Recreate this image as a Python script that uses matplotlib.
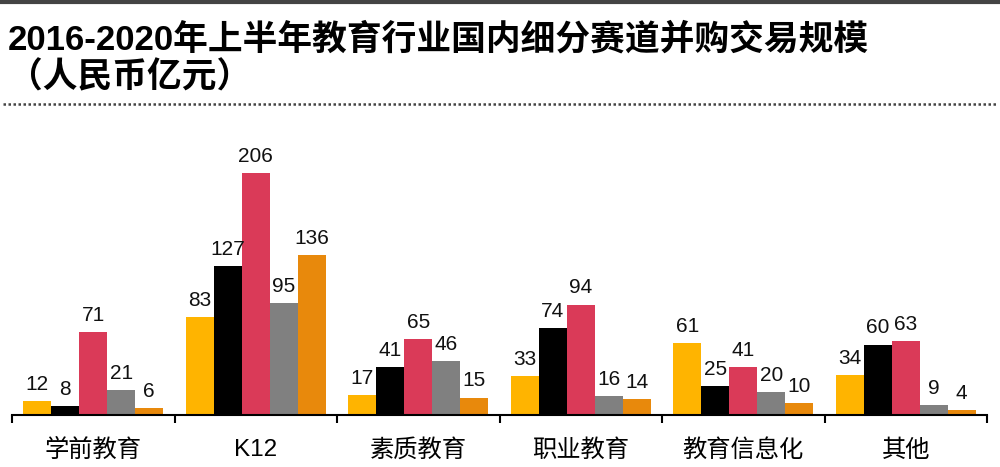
import numpy as np
import matplotlib.pyplot as plt
from matplotlib.lines import Line2D

plt.rcParams['font.family'] = ['Liberation Sans', 'Noto Sans CJK SC', 'DejaVu Sans']

categories = ['学前教育', 'K12', '素质教育', '职业教育', '教育信息化', '其他']
years = ['2016', '2017', '2018', '2019', '2020H1']
values = [
    [12, 83, 17, 33, 61, 34],
    [8, 127, 41, 74, 25, 60],
    [71, 206, 65, 94, 41, 63],
    [21, 95, 46, 16, 20, 9],
    [6, 136, 15, 14, 10, 4],
]
colors = ['#FFB400', '#000000', '#DA3A58', '#808080', '#E8890C']

fig = plt.figure(figsize=(10, 4.67), dpi=100)
ax = fig.add_axes([0.012, 0.111, 0.975, 0.63])

x = np.arange(len(categories))
w = 0.172
for i, (yr, vals) in enumerate(zip(years, values)):
    pos = x + (i - 2) * w
    ax.bar(pos, vals, w, color=colors[i], label=yr)
    for p, v in zip(pos, vals):
        ax.text(p, v + 6, str(v), ha='center', va='bottom', fontsize=15, color='#111111')

ax.set_xlim(-0.5, len(categories) - 0.5)
ax.set_ylim(0, 250)
ax.set_yticks([])
for s in ['top', 'right', 'left']:
    ax.spines[s].set_visible(False)
ax.spines['bottom'].set_linewidth(1.5)
ax.set_xticks(np.arange(-0.5, len(categories)))
ax.set_xticklabels([])
ax.tick_params(axis='x', direction='out', length=6, width=1.5)
for xi, c in zip(x, categories):
    ax.text(xi, -0.12, c, transform=ax.get_xaxis_transform(), ha='center', va='center',
            fontsize=17.5, family=['Liberation Sans', 'Noto Sans CJK SC'])

fig.text(0.008, 0.915, '2016-2020年上半年教育行业国内细分赛道并购交易规模', fontsize=25,
         fontweight='bold', family=['Liberation Sans', 'Noto Sans CJK SC'], va='center')
fig.text(0.008, 0.835, '（人民币亿元）', fontsize=25, fontweight='bold',
         family=['Noto Sans CJK SC', 'DejaVu Sans'], va='center')

fig.add_artist(Line2D([0, 1], [0.996, 0.996], transform=fig.transFigure, color='#444444', lw=3))
fig.add_artist(Line2D([0.003, 0.997], [0.778, 0.778], transform=fig.transFigure, color='#444444',
                      lw=1.8, linestyle=(0, (1, 1))))

fig.savefig('out.png', dpi=100)
